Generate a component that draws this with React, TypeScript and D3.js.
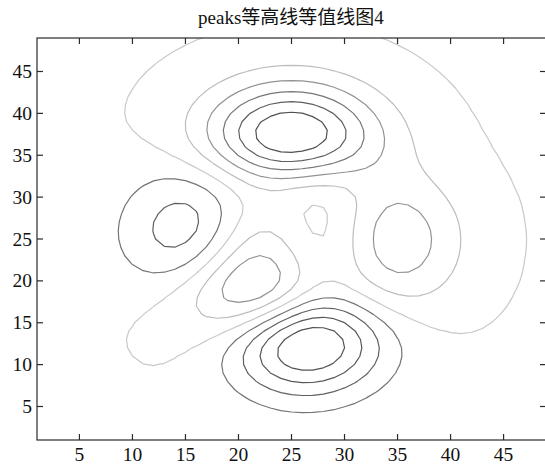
import React from 'react';
import * as d3 from 'd3';

// Figure geometry
const WIDTH = 545;
const HEIGHT = 467;
const PLOT = { left: 37, right: 546, top: 38, bottom: 440 };

// Surface sampling: MATLAB-style peaks(49) over [-3, 3] x [-3, 3]
const GRID_N = 49;
const SPAN = [-3, 3];

// Contour levels (10 evenly spaced levels between the surface min and max)
const LEVELS = [-5.217, -3.888, -2.559, -1.23, 0.099, 1.428, 2.758, 4.087, 5.416, 6.746];
const LEVEL_COLORS = ['#535353', '#585858', '#606060', '#747474', '#c9c9c9', '#bdbdbd', '#939393', '#777777', '#5f5f5f', '#515151'];

const X_TICKS = [5, 10, 15, 20, 25, 30, 35, 40, 45];
const Y_TICKS = [5, 10, 15, 20, 25, 30, 35, 40, 45];
const TITLE = 'peaks等高线等值线图4';

function peaks(x: number, y: number): number {
  return (
    3 * (1 - x) ** 2 * Math.exp(-(x ** 2) - (y + 1) ** 2) -
    10 * (x / 5 - x ** 3 - y ** 5) * Math.exp(-(x ** 2) - y ** 2) -
    (1 / 3) * Math.exp(-((x + 1) ** 2) - y ** 2)
  );
}

function buildGrid(): number[] {
  const coords = d3.range(GRID_N).map((i) => SPAN[0] + (i * (SPAN[1] - SPAN[0])) / (GRID_N - 1));
  const values: number[] = new Array(GRID_N * GRID_N);
  for (let row = 0; row < GRID_N; row++) {
    for (let col = 0; col < GRID_N; col++) {
      values[row * GRID_N + col] = peaks(coords[col], coords[row]);
    }
  }
  return values;
}

export default function App() {
  const x = d3.scaleLinear().domain([1, GRID_N]).range([PLOT.left, PLOT.right]);
  const y = d3.scaleLinear().domain([1, GRID_N]).range([PLOT.bottom, PLOT.top]);

  const values = buildGrid();
  const contours = d3.contours().size([GRID_N, GRID_N]).thresholds(LEVELS)(values);

  // d3 grid coordinate c corresponds to sample index c - 0.5, i.e. data value c + 0.5
  const projection = d3.geoTransform({
    point(px: number, py: number) {
      this.stream.point(x(px + 0.5), y(py + 0.5));
    },
  });
  const path = d3.geoPath(projection);

  const tickLen = 6;
  const font = '"Liberation Serif", "Times New Roman", "Noto Sans CJK SC", serif';
  const axisColor = '#2a2a2a';

  return (
    <svg width={WIDTH} height={HEIGHT} style={{ position: 'absolute', left: 0, top: 0, background: '#fff' }}>
      <defs>
        <clipPath id="plot-area">
          <rect x={PLOT.left} y={PLOT.top} width={PLOT.right - PLOT.left} height={PLOT.bottom - PLOT.top} />
        </clipPath>
      </defs>
      <rect x={0} y={0} width={WIDTH} height={HEIGHT} fill="#fff" />

      <g clipPath="url(#plot-area)">
        {contours.map((c, i) => (
          <path
            key={i}
            d={path(c as any) || ''}
            fill="none"
            stroke={LEVEL_COLORS[LEVELS.indexOf(c.value)]}
            strokeWidth={1.2}
            strokeLinejoin="round"
          />
        ))}
      </g>

      {/* axes box */}
      <rect
        x={PLOT.left}
        y={PLOT.top}
        width={PLOT.right - PLOT.left}
        height={PLOT.bottom - PLOT.top}
        fill="none"
        stroke={axisColor}
        strokeWidth={1.2}
      />

      {/* x ticks, bottom and top */}
      {X_TICKS.map((t) => (
        <g key={'x' + t}>
          <line x1={x(t)} x2={x(t)} y1={PLOT.bottom} y2={PLOT.bottom - tickLen} stroke={axisColor} strokeWidth={1.2} />
          <line x1={x(t)} x2={x(t)} y1={PLOT.top} y2={PLOT.top + tickLen} stroke={axisColor} strokeWidth={1.2} />
          <text x={x(t)} y={PLOT.bottom + 21} textAnchor="middle" fontFamily={font} fontSize={19.5} fill="#111">
            {t}
          </text>
        </g>
      ))}

      {/* y ticks, left and right */}
      {Y_TICKS.map((t) => (
        <g key={'y' + t}>
          <line x1={PLOT.left} x2={PLOT.left + tickLen} y1={y(t)} y2={y(t)} stroke={axisColor} strokeWidth={1.2} />
          <line x1={PLOT.right} x2={PLOT.right - tickLen} y1={y(t)} y2={y(t)} stroke={axisColor} strokeWidth={1.2} />
          <text x={PLOT.left - 5} y={y(t) + 6.5} textAnchor="end" fontFamily={font} fontSize={19.5} fill="#111">
            {t}
          </text>
        </g>
      ))}

      <text x={(PLOT.left + 545) / 2} y={24} textAnchor="middle" fontFamily={font} fontSize={19} fill="#111">
        {TITLE}
      </text>
    </svg>
  );
}
